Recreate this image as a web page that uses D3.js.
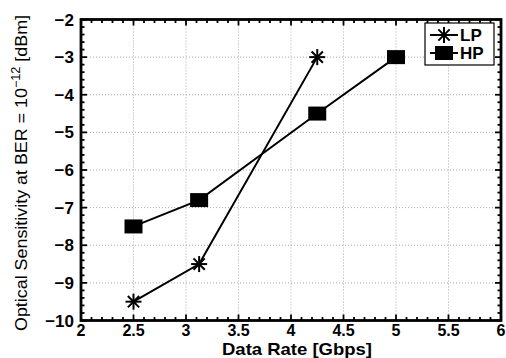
<!DOCTYPE html>
<html>
<head>
<meta charset="utf-8">
<script src="https://cdn.jsdelivr.net/npm/d3@7"></script>
<style>
  body { margin: 0; background: #fff; }
  text { font-family: "Liberation Sans", Arial, sans-serif; }
</style>
</head>
<body>
<svg id="chart" width="506" height="358"></svg>
<script>
// data
var lpRate = [2.5, 3.125, 4.25];
var lpSens = [-9.5, -8.5, -3];
var hpRate = [2.5, 3.125, 4.25, 5];
var hpSens = [-7.5, -6.8, -4.5, -3];
var xTicks = [2, 2.5, 3, 3.5, 4, 4.5, 5, 5.5, 6];
var yTicks = [-10, -9, -8, -7, -6, -5, -4, -3, -2];

var svg = d3.select("#chart");
var pLeft = 81, pRight = 501, pTop = 19.5, pBottom = 320.5;

var x = d3.scaleLinear().domain([2, 6]).range([pLeft, pRight]);
var y = d3.scaleLinear().domain([-10, -2]).range([pBottom, pTop]);

// grid
var grid = svg.append("g");
grid.selectAll(".gx").data(xTicks.slice(1, -1)).enter().append("line")
  .attr("x1", function(d) { return x(d); }).attr("x2", function(d) { return x(d); })
  .attr("y1", pTop).attr("y2", pBottom)
  .attr("stroke", "#aaa").attr("stroke-width", 1).attr("stroke-dasharray", "1,2");
grid.selectAll(".gy").data(yTicks.slice(1, -1)).enter().append("line")
  .attr("y1", function(d) { return y(d); }).attr("y2", function(d) { return y(d); })
  .attr("x1", pLeft).attr("x2", pRight)
  .attr("stroke", "#aaa").attr("stroke-width", 1).attr("stroke-dasharray", "1,2");

// minor + major ticks, inward on all four sides
var xMinor = d3.range(20, 61).map(function(v) { return v / 10; });
var yMinor = d3.range(-50, -9).map(function(v) { return v / 5; });
var ticks = svg.append("g").attr("stroke", "#000").attr("stroke-width", 1.8);
xMinor.forEach(function(v) {
  var len = Math.abs(v * 2 - Math.round(v * 2)) < 1e-9 ? 6 : 3.5;
  ticks.append("line").attr("x1", x(v)).attr("x2", x(v)).attr("y1", pBottom).attr("y2", pBottom - len);
  ticks.append("line").attr("x1", x(v)).attr("x2", x(v)).attr("y1", pTop).attr("y2", pTop + len);
});
yMinor.forEach(function(v) {
  var len = Math.abs(v - Math.round(v)) < 1e-9 ? 6 : 3.5;
  ticks.append("line").attr("y1", y(v)).attr("y2", y(v)).attr("x1", pLeft).attr("x2", pLeft + len);
  ticks.append("line").attr("y1", y(v)).attr("y2", y(v)).attr("x1", pRight).attr("x2", pRight - len);
});

// frame
svg.append("rect")
  .attr("x", pLeft).attr("y", pTop)
  .attr("width", pRight - pLeft).attr("height", pBottom - pTop)
  .attr("fill", "none").attr("stroke", "#000").attr("stroke-width", 2.8);

// tick labels
svg.selectAll(".xl").data(xTicks).enter().append("text")
  .attr("x", function(d) { return x(d); }).attr("y", 336)
  .attr("text-anchor", "middle").attr("font-size", 16).attr("font-weight", "bold")
  .text(function(d) { return d; });
svg.selectAll(".yl").data(yTicks).enter().append("text")
  .attr("x", 74).attr("y", function(d) { return y(d) + 6; })
  .attr("text-anchor", "end").attr("font-size", 17).attr("font-weight", "bold")
  .text(function(d) { return "\u2212" + Math.abs(d); });

// axis titles
svg.append("text")
  .attr("x", 297).attr("y", 355)
  .attr("text-anchor", "middle").attr("font-size", 17).attr("font-weight", "bold")
  .attr("textLength", 150).attr("lengthAdjust", "spacingAndGlyphs")
  .text("Data Rate [Gbps]");

var yt = svg.append("text")
  .attr("transform", "translate(27,173) rotate(-90)")
  .attr("text-anchor", "middle").attr("font-size", 17)
  .attr("textLength", 316).attr("lengthAdjust", "spacingAndGlyphs");
yt.append("tspan").text("Optical Sensitivity at BER = 10");
yt.append("tspan").attr("dy", -7).attr("font-size", 12).text("\u221212");
yt.append("tspan").attr("dy", 7).text(" [dBm]");

// series
var line = d3.line().x(function(d) { return x(d[0]); }).y(function(d) { return y(d[1]); });
var lp = d3.zip(lpRate, lpSens), hp = d3.zip(hpRate, hpSens);

svg.append("path").datum(lp).attr("d", line)
  .attr("fill", "none").attr("stroke", "#000").attr("stroke-width", 2);
svg.append("path").datum(hp).attr("d", line)
  .attr("fill", "none").attr("stroke", "#000").attr("stroke-width", 2);

function star(g, cx, cy) {
  var r = 8;
  [0, 45, 90, 135].forEach(function(a) {
    var t = a * Math.PI / 180;
    g.append("line")
      .attr("x1", cx - r * Math.cos(t)).attr("y1", cy - r * Math.sin(t))
      .attr("x2", cx + r * Math.cos(t)).attr("y2", cy + r * Math.sin(t))
      .attr("stroke", "#000").attr("stroke-width", 2);
  });
}
function square(g, cx, cy) {
  g.append("rect").attr("x", cx - 9).attr("y", cy - 7)
    .attr("width", 18).attr("height", 14).attr("fill", "#000");
}

var marks = svg.append("g");
lp.forEach(function(d) { star(marks, x(d[0]), y(d[1])); });
hp.forEach(function(d) { square(marks, x(d[0]), y(d[1])); });

// legend
var lg = svg.append("g");
lg.append("rect").attr("x", 425).attr("y", 23).attr("width", 69).attr("height", 42)
  .attr("fill", "#fff").attr("stroke", "#000").attr("stroke-width", 1.2);
var rows = [{ name: "LP", y: 35, m: star }, { name: "HP", y: 53, m: square }];
rows.forEach(function(r) {
  lg.append("line").attr("x1", 430).attr("x2", 458).attr("y1", r.y).attr("y2", r.y)
    .attr("stroke", "#000").attr("stroke-width", 2);
  r.m(lg, 444, r.y);
  lg.append("text").attr("x", 460).attr("y", r.y + 6)
    .attr("font-size", 17).attr("font-weight", "bold").text(r.name);
});
</script>
</body>
</html>
